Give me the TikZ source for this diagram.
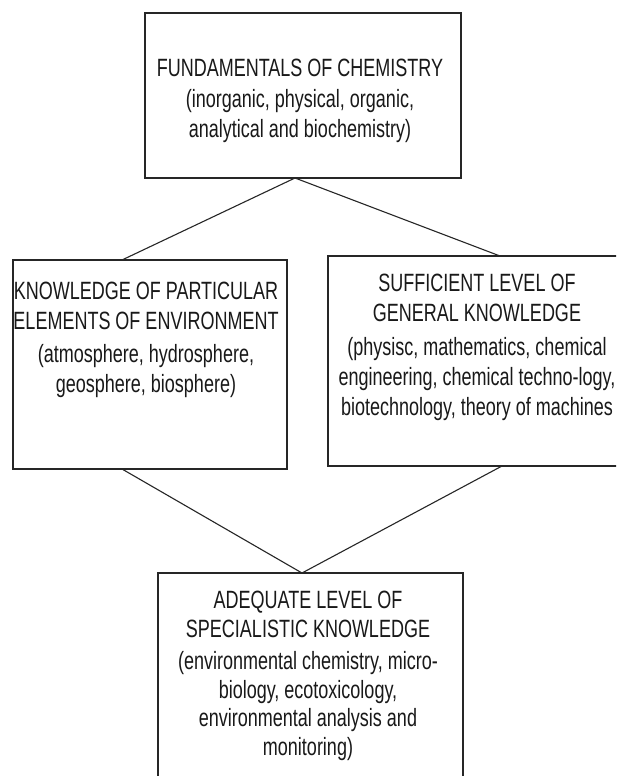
\documentclass[tikz,border=0pt]{standalone}
\usepackage{fontspec}
\setmainfont[FakeStretch=0.72]{Liberation Sans}
\begin{document}
\begin{tikzpicture}[x=1pt,y=1pt,
  box/.style={draw=black!85, line width=1.2pt, rectangle, inner sep=0pt},
  txt/.style={align=center, inner sep=0pt, anchor=north, text=black!90,
    font=\fontsize{25}{30}\selectfont},
  link/.style={draw=black!85, line width=1.1pt}]
\useasboundingbox (0,0) rectangle (616,-776);
\clip (0,0) rectangle (616,-776);
\fill[white] (0,0) rectangle (616,-776);
% boxes
\node[box, minimum width=316, minimum height=165] (top) at (303,-95.5) {};
\node[box, minimum width=274, minimum height=209] (left) at (150,-364.5) {};
\node[box, minimum width=300, minimum height=210] (right) at (478,-361) {};
\node[box, minimum width=305, minimum height=260] (bottom) at (310.5,-703) {};
% texts
\node[txt] (toptext) at (300,-59) {FUNDAMENTALS OF CHEMISTRY\\[1pt]
  (inorganic, physical, organic,\\ analytical and biochemistry)};
\node[txt] (lefttext) at (146,-282) {KNOWLEDGE OF PARTICULAR\\
  ELEMENTS OF ENVIRONMENT\\[3pt] (atmosphere, hydrosphere,\\ geosphere, biosphere)};
\node[txt] (righttext) at (477,-274) {SUFFICIENT LEVEL OF\\
  GENERAL KNOWLEDGE\\[4pt] (physisc, mathematics, chemical\\
  engineering, chemical techno-logy,\\ biotechnology, theory of machines};
\node[txt, font=\fontsize{25}{28.5}\selectfont] (bottomtext) at (308,-591) {ADEQUATE LEVEL OF\\
  SPECIALISTIC KNOWLEDGE\\[4pt] (environmental chemistry, micro-\\
  biology, ecotoxicology,\\ environmental analysis and\\ monitoring)};
% connector points
\coordinate (topA) at (295,-178);
\coordinate (leftT) at (122,-260);
\coordinate (rightT) at (500,-256);
\coordinate (leftB) at (122,-469);
\coordinate (rightB) at (502,-466);
\coordinate (botA) at (302,-573);
\draw[link] (leftT) -- (topA) -- (rightT);
\draw[link] (leftB) -- (botA) -- (rightB);
\end{tikzpicture}
\end{document}
